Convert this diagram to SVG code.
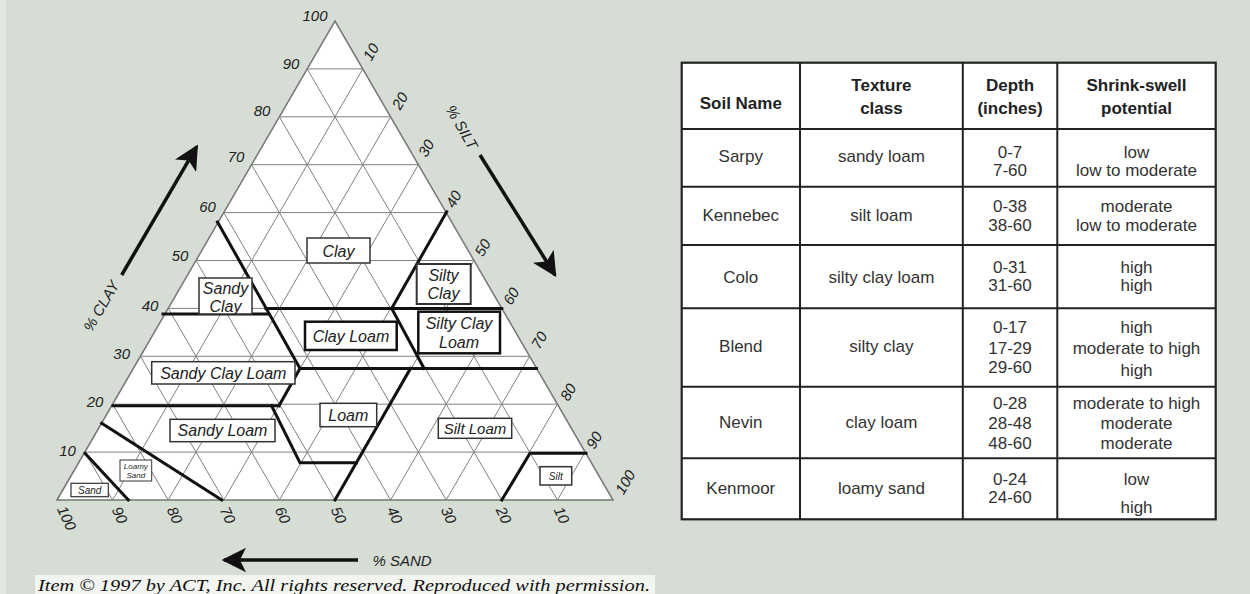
<svg xmlns="http://www.w3.org/2000/svg" width="1250" height="594" viewBox="0 0 1250 594">
<defs>
<style>
.grid{stroke:#808080;stroke-width:1;fill:none}
.thick{stroke:#111;stroke-width:3;fill:none;stroke-linecap:square}
.tick{font-family:"Liberation Sans",Arial,sans-serif;font-style:italic;font-size:15px;fill:#222;text-anchor:middle;dominant-baseline:central}
.lbl{font-family:"Liberation Sans",Arial,sans-serif;font-style:italic;font-size:16px;fill:#222;text-anchor:middle}
.sm{font-size:10px}
.xs{font-size:8px}
.md{font-size:15px}
.box{fill:#fff;stroke:#333;stroke-width:1.5}
.boxb{fill:#fff;stroke:#111;stroke-width:2.5}
.axis{font-family:"Liberation Sans",Arial,sans-serif;font-style:italic;font-size:15px;fill:#222;text-anchor:middle;dominant-baseline:central}
.arrow{stroke:#111;stroke-width:3.5;fill:none}
.tl{stroke:#222;stroke-width:2;fill:none}
.th{font-family:"Liberation Sans",Arial,sans-serif;font-weight:bold;font-size:17px;fill:#222;text-anchor:middle}
.td{font-family:"Liberation Sans",Arial,sans-serif;font-size:17px;fill:#333;text-anchor:middle}
</style>
<marker id="ah" viewBox="0 0 10 10" refX="9" refY="5" markerWidth="7" markerHeight="7" markerUnits="strokeWidth" orient="auto">
<path d="M0,0 L10,5 L0,10 L2.5,5 Z" fill="#111"/>
</marker>
</defs>
<rect width="1250" height="594" fill="#d6ddd5"/>
<rect x="0" y="0" width="6" height="594" fill="#e2e7e1"/>
<rect x="35" y="575" width="620" height="19" fill="#f3f5f1"/>

<g id="triangle">
<polygon points="57,500 335,21 613,500" fill="#fff" stroke="#777" stroke-width="1.5"/>
<g class="grid">
<line x1="84.8" y1="452.1" x2="585.2" y2="452.1"/>
<line x1="112.6" y1="404.2" x2="557.4" y2="404.2"/>
<line x1="140.4" y1="356.3" x2="529.6" y2="356.3"/>
<line x1="168.2" y1="308.4" x2="501.8" y2="308.4"/>
<line x1="196" y1="260.5" x2="474" y2="260.5"/>
<line x1="223.8" y1="212.6" x2="446.2" y2="212.6"/>
<line x1="251.6" y1="164.7" x2="418.4" y2="164.7"/>
<line x1="279.4" y1="116.8" x2="390.6" y2="116.8"/>
<line x1="307.2" y1="68.9" x2="362.8" y2="68.9"/>
<line x1="112.6" y1="500" x2="362.8" y2="68.9"/>
<line x1="168.2" y1="500" x2="390.6" y2="116.8"/>
<line x1="223.8" y1="500" x2="418.4" y2="164.7"/>
<line x1="279.4" y1="500" x2="446.2" y2="212.6"/>
<line x1="335" y1="500" x2="474" y2="260.5"/>
<line x1="390.6" y1="500" x2="501.8" y2="308.4"/>
<line x1="446.2" y1="500" x2="529.6" y2="356.3"/>
<line x1="501.8" y1="500" x2="557.4" y2="404.2"/>
<line x1="557.4" y1="500" x2="585.2" y2="452.1"/>
<line x1="557.4" y1="500" x2="307.2" y2="68.9"/>
<line x1="501.8" y1="500" x2="279.4" y2="116.8"/>
<line x1="446.2" y1="500" x2="251.6" y2="164.7"/>
<line x1="390.6" y1="500" x2="223.8" y2="212.6"/>
<line x1="335" y1="500" x2="196" y2="260.5"/>
<line x1="279.4" y1="500" x2="168.2" y2="308.4"/>
<line x1="223.8" y1="500" x2="140.4" y2="356.3"/>
<line x1="168.2" y1="500" x2="112.6" y2="404.2"/>
<line x1="112.6" y1="500" x2="84.8" y2="452.1"/>
</g>
</g>

<g id="connectors">
<g id="boundaries" class="thick">
<line x1="217.5" y1="222" x2="300" y2="368.4"/>
<line x1="163" y1="314" x2="268" y2="314"/>
<line x1="266" y1="308.4" x2="501.8" y2="308.4"/>
<line x1="446.7" y1="211.7" x2="391.7" y2="308.4"/>
<line x1="391.7" y1="308.4" x2="424" y2="368.4"/>
<line x1="300" y1="368.4" x2="536.5" y2="368.4"/>
<line x1="300" y1="368.4" x2="279" y2="405.7"/>
<line x1="113" y1="405.7" x2="279" y2="405.7"/>
<polyline points="271.5,405.7 300,462.8 356.5,462.8"/>
<line x1="410.5" y1="368.4" x2="335" y2="500"/>
<polyline points="501.8,500 530,453.3 586,453.3"/>
<line x1="101.7" y1="423.3" x2="221.7" y2="500"/>
<line x1="85" y1="453.3" x2="128.3" y2="500"/>
</g>
<g id="axis-arrows" class="arrow">
<line x1="121.7" y1="275" x2="196.7" y2="146.7" marker-end="url(#ah)"/>
<line x1="480" y1="155" x2="555" y2="275" marker-end="url(#ah)"/>
<line x1="358" y1="560" x2="224" y2="560" marker-end="url(#ah)"/>
</g>
</g>

<g id="clay-ticks" class="tick">
<text x="67.5" y="450">10</text>
<text x="95" y="401.7">20</text>
<text x="121.7" y="353.3">30</text>
<text x="150" y="305">40</text>
<text x="180" y="255">50</text>
<text x="207.5" y="206.7">60</text>
<text x="236" y="156.7">70</text>
<text x="262" y="110">80</text>
<text x="291" y="63.3">90</text>
<text x="315" y="15.3">100</text>
</g>
<g id="silt-ticks" class="tick">
<text transform="translate(370.7,51.7) rotate(-60)">10</text>
<text transform="translate(399.7,100.7) rotate(-60)">20</text>
<text transform="translate(426,148) rotate(-60)">30</text>
<text transform="translate(453.3,199) rotate(-60)">40</text>
<text transform="translate(482.5,247.5) rotate(-60)">50</text>
<text transform="translate(511,296) rotate(-60)">60</text>
<text transform="translate(539,340) rotate(-60)">70</text>
<text transform="translate(568,392) rotate(-60)">80</text>
<text transform="translate(594,440) rotate(-60)">90</text>
<text transform="translate(625,482) rotate(-60)">100</text>
</g>
<g id="sand-ticks" class="tick">
<text transform="translate(67,518) rotate(65)">100</text>
<text transform="translate(120,515) rotate(65)">90</text>
<text transform="translate(175,515) rotate(65)">80</text>
<text transform="translate(228,515) rotate(65)">70</text>
<text transform="translate(283,515) rotate(65)">60</text>
<text transform="translate(339,515) rotate(65)">50</text>
<text transform="translate(395,515) rotate(65)">40</text>
<text transform="translate(449,515) rotate(65)">30</text>
<text transform="translate(504,515) rotate(65)">20</text>
<text transform="translate(562,515) rotate(65)">10</text>
</g>

<g id="axis-labels" class="axis">
<text transform="translate(101,306) rotate(-60)">% CLAY</text>
<text transform="translate(462,127) rotate(60)">% SILT</text>
<text x="402" y="560">% SAND</text>
</g>

<g id="class-clay"><rect class="box" x="307" y="238" width="63" height="25"/><text class="lbl" x="338.5" y="256.5">Clay</text></g>
<g id="class-sandy-clay"><rect class="box" x="199" y="278" width="53" height="36"/><text class="lbl" x="225.5" y="294">Sandy</text><text class="lbl" x="225.5" y="312">Clay</text></g>
<g id="class-silty-clay"><rect class="box" x="416.7" y="264" width="54" height="40" style="stroke-width:2"/><text class="lbl" x="443.5" y="280.5">Silty</text><text class="lbl" x="443.5" y="299">Clay</text></g>
<g id="class-silty-clay-loam"><rect class="boxb" x="418.3" y="311.7" width="81.7" height="41.6"/><text class="lbl" x="459" y="329">Silty Clay</text><text class="lbl" x="459" y="348">Loam</text></g>
<g id="class-clay-loam"><rect class="boxb" x="305" y="321.7" width="91.7" height="28.3"/><text class="lbl" x="351" y="341.5">Clay Loam</text></g>
<g id="class-sandy-clay-loam"><rect class="box" x="151.7" y="361.7" width="143.3" height="22.3"/><text class="lbl" x="223.3" y="378.5">Sandy Clay Loam</text></g>
<g id="class-sandy-loam"><rect class="box" x="170" y="419.3" width="105" height="22.4"/><text class="lbl" x="222.5" y="436">Sandy Loam</text></g>
<g id="class-loam"><rect class="box" x="320" y="403.3" width="56.7" height="23.4"/><text class="lbl" x="348.3" y="420.5">Loam</text></g>
<g id="class-silt-loam"><rect class="box" x="438.3" y="418.3" width="73.4" height="20"/><text class="lbl md" x="475" y="433.5">Silt Loam</text></g>
<g id="class-silt"><rect class="box" x="540" y="466.7" width="31.7" height="18.3"/><text class="lbl sm" x="555.8" y="479.5">Silt</text></g>
<g id="class-loamy-sand"><rect class="box" x="120" y="460" width="31.7" height="21" style="stroke-width:1"/><text class="lbl xs" x="135.8" y="469">Loamy</text><text class="lbl xs" x="135.8" y="478">Sand</text></g>
<g id="class-sand"><rect class="box" x="71" y="483.3" width="37.3" height="13.4" style="stroke-width:1.2"/><text class="lbl sm" x="89.7" y="493.5">Sand</text></g>

<text id="copyright" x="38" y="591" font-family="Liberation Serif,'Times New Roman',serif" font-style="italic" font-size="17" fill="#111" textLength="612" lengthAdjust="spacingAndGlyphs">Item © 1997 by ACT, Inc. All rights reserved. Reproduced with permission.</text>

<g id="table">
<rect x="681.7" y="62.7" width="534" height="456.6" fill="#fff" stroke="#222" stroke-width="2.2"/>
<g class="tl">
<line x1="800" y1="62.7" x2="800" y2="519.3"/>
<line x1="962.8" y1="62.7" x2="962.8" y2="519.3"/>
<line x1="1057.3" y1="62.7" x2="1057.3" y2="519.3"/>
<line x1="681.7" y1="129" x2="1215.7" y2="129"/>
<line x1="681.7" y1="186.7" x2="1215.7" y2="186.7"/>
<line x1="681.7" y1="245" x2="1215.7" y2="245"/>
<line x1="681.7" y1="308.3" x2="1215.7" y2="308.3"/>
<line x1="681.7" y1="386.7" x2="1215.7" y2="386.7"/>
<line x1="681.7" y1="458.3" x2="1215.7" y2="458.3"/>
</g>
<g id="header">
<text class="th" x="740.8" y="109">Soil Name</text>
<text class="th" x="881.4" y="91">Texture</text><text class="th" x="881.4" y="114">class</text>
<text class="th" x="1010" y="91">Depth</text><text class="th" x="1010" y="114">(inches)</text>
<text class="th" x="1136.5" y="91">Shrink-swell</text><text class="th" x="1136.5" y="114">potential</text>
</g>
<g id="row-sarpy">
<text class="td" x="740.8" y="162">Sarpy</text>
<text class="td" x="881.4" y="162">sandy loam</text>
<text class="td" x="1010" y="157.5">0-7</text><text class="td" x="1010" y="176">7-60</text>
<text class="td" x="1136.5" y="157.5">low</text><text class="td" x="1136.5" y="176">low to moderate</text>
</g>
<g id="row-kennebec">
<text class="td" x="740.8" y="221">Kennebec</text>
<text class="td" x="881.4" y="221">silt loam</text>
<text class="td" x="1010" y="212">0-38</text><text class="td" x="1010" y="231">38-60</text>
<text class="td" x="1136.5" y="212">moderate</text><text class="td" x="1136.5" y="231">low to moderate</text>
</g>
<g id="row-colo">
<text class="td" x="740.8" y="282.5">Colo</text>
<text class="td" x="881.4" y="282.5">silty clay loam</text>
<text class="td" x="1010" y="272.5">0-31</text><text class="td" x="1010" y="291">31-60</text>
<text class="td" x="1136.5" y="272.5">high</text><text class="td" x="1136.5" y="291">high</text>
</g>
<g id="row-blend">
<text class="td" x="740.8" y="352">Blend</text>
<text class="td" x="881.4" y="352">silty clay</text>
<text class="td" x="1010" y="332.5">0-17</text><text class="td" x="1010" y="354">17-29</text><text class="td" x="1010" y="373">29-60</text>
<text class="td" x="1136.5" y="332.5">high</text><text class="td" x="1136.5" y="354">moderate to high</text><text class="td" x="1136.5" y="376">high</text>
</g>
<g id="row-nevin">
<text class="td" x="740.8" y="427.5">Nevin</text>
<text class="td" x="881.4" y="427.5">clay loam</text>
<text class="td" x="1010" y="409">0-28</text><text class="td" x="1010" y="429">28-48</text><text class="td" x="1010" y="448.5">48-60</text>
<text class="td" x="1136.5" y="409">moderate to high</text><text class="td" x="1136.5" y="429">moderate</text><text class="td" x="1136.5" y="448.5">moderate</text>
</g>
<g id="row-kenmoor">
<text class="td" x="740.8" y="494">Kenmoor</text>
<text class="td" x="881.4" y="494">loamy sand</text>
<text class="td" x="1010" y="485">0-24</text><text class="td" x="1010" y="503">24-60</text>
<text class="td" x="1136.5" y="485">low</text><text class="td" x="1136.5" y="512.5">high</text>
</g>
</g>
</svg>
